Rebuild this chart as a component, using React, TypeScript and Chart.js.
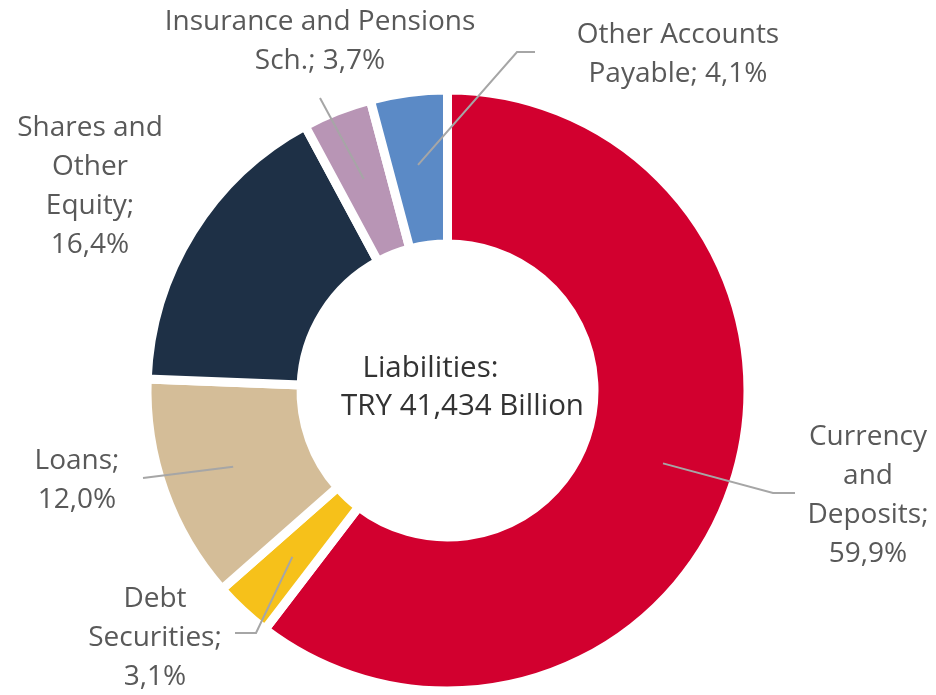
import React, { useEffect, useRef } from "react";
import { Chart, registerables } from "chart.js";

Chart.register(...registerables);

// ---- data ----
const categories = [
  "Currency and Deposits",
  "Debt Securities",
  "Loans",
  "Shares and Other Equity",
  "Insurance and Pensions Sch.",
  "Other Accounts Payable",
];
const values = [59.9, 3.1, 12.0, 16.4, 3.7, 4.1];
const colors = ["#D2002F", "#F6C11A", "#D4BD98", "#1E3046", "#B895B5", "#5B8AC6"];
// label text, wrapped as in the reference (value appended)
const labelLines = [
  ["Currency", "and", "Deposits;"],
  ["Debt", "Securities;"],
  ["Loans;"],
  ["Shares and", "Other", "Equity;"],
  ["Insurance and Pensions", "Sch.;"],
  ["Other Accounts", "Payable;"],
];
const valueInline = [false, false, false, false, true, true];
const centerTitle = "Liabilities:";
const centerValue = "TRY 41,434 Billion";

// ---- layout of labels / leader lines (pixels) ----
const labelPos = [
  { x: 868, y: 445, leader: [[773, 493], [795, 493]] },
  { x: 155, y: 607, leader: [[256, 633], [235, 633]] },
  { x: 77, y: 469, leader: [[143, 478]] },
  { x: 90, y: 136, leader: [] },
  { x: 320, y: 30, leader: [[320, 98]] },
  { x: 678, y: 43, leader: [[517, 52], [535, 52]] },
];
const LINE_H = 39;
const FONT = "28px 'Open Sans'";
const CENTER_FONT = "29.5px 'Open Sans'";

const fmt = (v: number) => v.toFixed(1).replace(".", ",") + "%";

const labelPlugin = {
  id: "labelPlugin",
  afterDatasetsDraw(chart: any) {
    const ctx = chart.ctx;
    const meta = chart.getDatasetMeta(0);
    ctx.save();
    // leader lines
    ctx.strokeStyle = "#A6A6A6";
    ctx.lineWidth = 2;
    meta.data.forEach((arc: any, i: number) => {
      const pos = labelPos[i];
      if (!pos.leader.length) return;
      const { x, y, startAngle, endAngle, innerRadius, outerRadius } = arc.getProps([
        "x", "y", "startAngle", "endAngle", "innerRadius", "outerRadius",
      ]);
      const a = (startAngle + endAngle) / 2;
      const r = (innerRadius + outerRadius) / 2 + 4;
      ctx.beginPath();
      ctx.moveTo(x + Math.cos(a) * r, y + Math.sin(a) * r);
      pos.leader.forEach((p: number[]) => ctx.lineTo(p[0], p[1]));
      ctx.stroke();
    });
    // labels
    ctx.fillStyle = "#595959";
    ctx.font = FONT;
    ctx.textAlign = "center";
    ctx.textBaseline = "alphabetic";
    labelLines.forEach((lines, i) => {
      const out = lines.slice();
      const v = fmt(values[i]);
      if (valueInline[i]) out[out.length - 1] = out[out.length - 1] + " " + v;
      else out.push(v);
      const pos = labelPos[i];
      out.forEach((t, k) => ctx.fillText(t, pos.x, pos.y + k * LINE_H));
    });
    // center text
    const arc0 = meta.data[0];
    const cx = arc0.x;
    const cy = arc0.y;
    ctx.fillStyle = "#333333";
    ctx.font = CENTER_FONT;
    ctx.fillText(centerTitle, cx - 17, cy - 14);
    ctx.fillText(centerValue, cx + 15, cy + 24);
    ctx.restore();
  },
};

export default function App() {
  const ref = useRef<HTMLCanvasElement>(null);
  useEffect(() => {
    document.body.style.margin = "0";
    const chart = new Chart(ref.current!, {
      type: "doughnut",
      data: {
        labels: categories,
        datasets: [
          {
            data: values,
            backgroundColor: colors,
            borderColor: "#FFFFFF",
            borderWidth: 9,
          },
        ],
      },
      options: {
        responsive: false,
        animation: false,
        radius: 300.5,
        cutout: "48.75%",
        layout: { padding: { left: 0, right: 41, top: 86, bottom: 0 } },
        plugins: { legend: { display: false }, tooltip: { enabled: false } },
      },
      plugins: [labelPlugin],
    });
    return () => chart.destroy();
  }, []);
  return <canvas ref={ref} width={936} height={695} style={{ display: "block" }} />;
}
